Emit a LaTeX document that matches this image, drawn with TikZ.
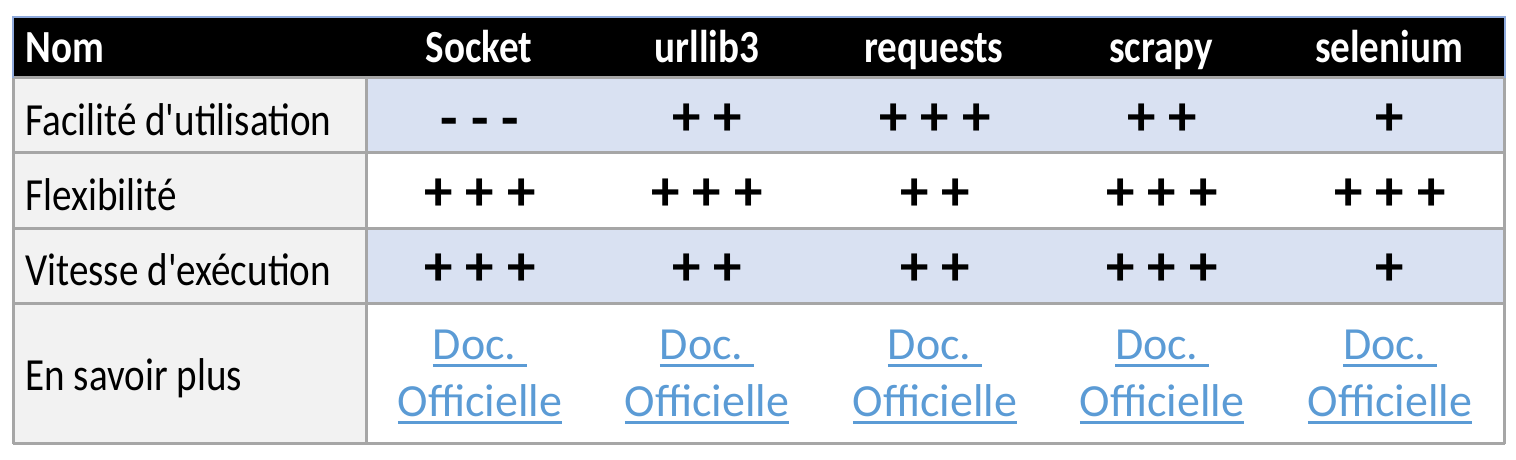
\documentclass[tikz,border=0pt]{standalone}
\usepackage{fontspec}
\setmainfont{Carlito}[FakeStretch=0.85,Ligatures=TeXOff]
\newfontfamily\wordfont{Carlito}
\definecolor{rowblue}{HTML}{D9E1F2}
\definecolor{colgray}{HTML}{F2F2F2}
\definecolor{gridgray}{HTML}{A6A6A6}
\definecolor{edgeblue}{HTML}{8EA9DB}
\definecolor{linkblue}{HTML}{5B9BD5}
\newcommand\docline[1]{\setbox0\hbox{#1}\rlap{\vrule height -2.3pt depth 3.9pt width \wd0}\box0}
\begin{document}
\begin{tikzpicture}[x=0.5pt,y=-0.5pt,
	hdr/.style={text=white,font=\fontsize{23}{27}\selectfont\bfseries,anchor=base,inner sep=0},
	lbl/.style={font=\fontsize{23}{27}\selectfont,anchor=base west,inner sep=0},
	grade/.style={font=\wordfont\fontsize{28.5}{32}\selectfont\bfseries,inner sep=0},
	doclink/.style={text=linkblue,font=\wordfont\fontsize{23}{27}\selectfont,anchor=base,inner sep=0}]
			\useasboundingbox (0,0) rectangle (1516,460);
			% fonds
			\fill[black] (13,18) rectangle (1505,78);
			\fill[colgray] (13,78) rectangle (366,443);
			\fill[rowblue] (366,78) rectangle (1505,153);
			\fill[rowblue] (366,228) rectangle (1505,303);
			% grille
			\draw[gridgray,line width=1.5pt] (13,78) -- (1505,78);
			\draw[gridgray,line width=1.5pt] (13,153) -- (1505,153);
			\draw[gridgray,line width=1.5pt] (13,228) -- (1505,228);
			\draw[gridgray,line width=1.5pt] (13,303) -- (1505,303);
			\draw[gridgray,line width=1.5pt] (13,443) -- (1505,443);
			\draw[gridgray,line width=1.5pt] (13.5,78) -- (13.5,443.7);
			\draw[gridgray,line width=1.5pt] (366,78) -- (366,443);
			\draw[gridgray,line width=1.5pt] (1504,78) -- (1504,443.7);
			\draw[edgeblue,line width=1pt] (13,78) -- (13,17.5) -- (1505,17.5) -- (1505,78);
			% en-tete
			\node[hdr,anchor=base west] (nom) at (25,63) {Nom};
			\node[hdr] (socket) at (479,63) {Socket};
			\node[hdr] (urllib) at (707,63) {urllib3};
			\node[hdr] (requests) at (934,63) {requests};
			\node[hdr] (scrapy) at (1161,63) {scrapy};
			\node[hdr] (selenium) at (1389,63) {selenium};
			% criteres
			\node[lbl] (facilite) at (25,135) {Facilit\'e d'utilisation};
			\node[lbl] (flex) at (25,210) {Flexibilit\'e};
			\node[lbl] (vitesse) at (25,285) {Vitesse d'ex\'ecution};
			\node[lbl] (savoir) at (25,390) {En savoir plus};
			% notes
			\node[grade] (fsocket) at (480,128) {- - -};
			\node[grade] (furllib) at (707,120) {+ +};
			\node[grade] (frequests) at (935,120) {+ + +};
			\node[grade] (fscrapy) at (1162,120) {+ +};
			\node[grade] (fselenium) at (1390,120) {+};
			\node[grade] (xsocket) at (480,195) {+ + +};
			\node[grade] (xurllib) at (707,195) {+ + +};
			\node[grade] (xrequests) at (935,195) {+ +};
			\node[grade] (xscrapy) at (1162,195) {+ + +};
			\node[grade] (xselenium) at (1390,195) {+ + +};
			\node[grade] (vsocket) at (480,270) {+ + +};
			\node[grade] (vurllib) at (707,270) {+ +};
			\node[grade] (vrequests) at (935,270) {+ +};
			\node[grade] (vscrapy) at (1162,270) {+ + +};
			\node[grade] (vselenium) at (1390,270) {+};
			% liens
			\node[doclink] (dsocket) at (480,359) {\docline{Doc.\ }};
			\node[doclink] (osocket) at (480,416) {\docline{Officielle}};
			\node[doclink] (durllib) at (707,359) {\docline{Doc.\ }};
			\node[doclink] (ourllib) at (707,416) {\docline{Officielle}};
			\node[doclink] (drequests) at (935,359) {\docline{Doc.\ }};
			\node[doclink] (orequests) at (935,416) {\docline{Officielle}};
			\node[doclink] (dscrapy) at (1162,359) {\docline{Doc.\ }};
			\node[doclink] (oscrapy) at (1162,416) {\docline{Officielle}};
			\node[doclink] (dselenium) at (1390,359) {\docline{Doc.\ }};
			\node[doclink] (oselenium) at (1390,416) {\docline{Officielle}};
		\end{tikzpicture}
\end{document}
